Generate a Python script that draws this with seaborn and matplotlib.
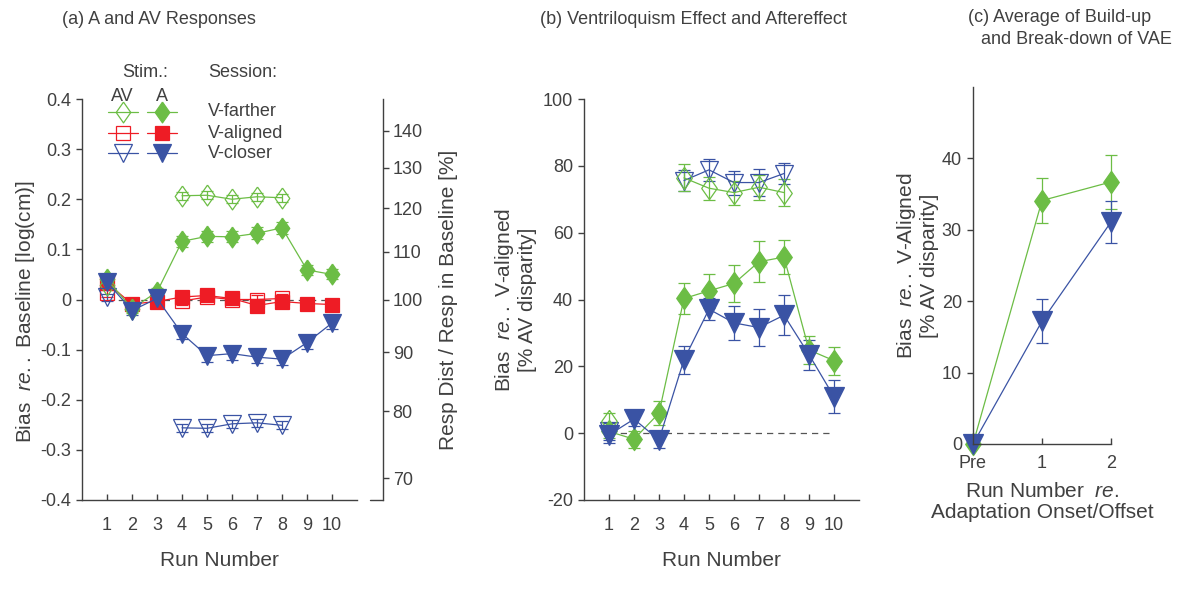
import numpy as np
import matplotlib
matplotlib.use("Agg")
import matplotlib.pyplot as plt
import seaborn as sns
from matplotlib.lines import Line2D

nan = np.nan

# ---- data -----------------------------------------------------------------
runs = np.arange(1, 11)

# (a) bias re. baseline [log(cm)]  -- A runs (filled) and AV runs (open)
a_far_A = [0.040, -0.018, 0.015, 0.116, 0.126, 0.125, 0.132, 0.143, 0.059, 0.050]
a_far_A_err = [0.008, 0.008, 0.008, 0.011, 0.011, 0.011, 0.012, 0.012, 0.010, 0.010]
a_ali_A = [0.033, -0.009, -0.004, 0.005, 0.008, 0.002, -0.012, -0.004, -0.008, -0.010]
a_ali_A_err = [0.008, 0.006, 0.006, 0.006, 0.006, 0.006, 0.006, 0.006, 0.006, 0.006]
a_clo_A = [0.035, -0.022, 0.002, -0.068, -0.112, -0.108, -0.115, -0.119, -0.086, -0.047]
a_clo_A_err = [0.008, 0.008, 0.008, 0.010, 0.012, 0.012, 0.012, 0.012, 0.012, 0.012]
a_far_AV = [0.028, nan, nan, 0.207, 0.208, 0.200, 0.205, 0.203, nan, nan]
a_ali_AV = [0.012, nan, nan, -0.003, 0.005, 0.000, 0.000, 0.002, nan, nan]
a_clo_AV = [0.004, nan, nan, -0.256, -0.257, -0.248, -0.246, -0.251, nan, nan]
a_AV_err = [0.007, nan, nan, 0.008, 0.008, 0.008, 0.008, 0.008, nan, nan]
a_right_ticks = [70, 80, 90, 100, 110, 120, 130, 140]

# (b) bias re. V-aligned [% AV disparity]
b_far_A = [0.5, -1.8, 6.0, 40.3, 42.6, 44.8, 51.3, 52.7, 24.9, 21.7]
b_far_A_err = [2.0, 2.5, 3.5, 4.5, 5.0, 5.5, 6.2, 5.0, 4.2, 4.2]
b_clo_A = [-0.5, 4.2, -2.0, 22.0, 37.1, 33.0, 31.6, 35.3, 23.5, 10.9]
b_clo_A_err = [2.5, 2.0, 2.3, 4.2, 3.2, 5.0, 5.5, 6.0, 4.5, 5.0]
b_far_AV = [3.5, nan, nan, 76.4, 73.3, 72.0, 73.6, 72.0, nan, nan]
b_far_AV_err = [2.5, nan, nan, 4.0, 3.5, 3.6, 3.7, 4.0, nan, nan]
b_clo_AV = [0.5, nan, nan, 75.6, 78.8, 75.0, 75.0, 77.7, nan, nan]
b_clo_AV_err = [2.5, nan, nan, 3.2, 3.3, 3.6, 4.0, 3.2, nan, nan]

# (c) average of build-up and break-down
c_labels = ["Pre", "1", "2"]
c_far = [0.0, 34.1, 36.7]
c_far_err = [0.0, 3.2, 3.8]
c_clo = [0.0, 17.2, 31.1]
c_clo_err = [0.0, 3.1, 3.0]

# ---- style ----------------------------------------------------------------
green, red, blue = "#6cbd45", "#ee1c25", "#3a53a4"
ink = "#404040"
# tall diamond like the MATLAB one
DIA = [(0, 1), (0.7, 0), (0, -1), (-0.7, 0), (0, 1)]

sns.set_theme(style="ticks")
plt.rcParams["font.family"] = ["Liberation Sans", "DejaVu Sans"]
plt.rcParams.update({
    "mathtext.fontset": "custom",
    "mathtext.rm": "Liberation Sans",
    "mathtext.it": "Liberation Sans:italic",
    "axes.unicode_minus": False,
    "axes.edgecolor": ink,
    "axes.labelcolor": ink,
    "text.color": ink,
    "xtick.color": ink,
    "ytick.color": ink,
    "axes.linewidth": 1.0,
})
FS_TICK, FS_LAB = 13, 15

fig = plt.figure(figsize=(11.82, 5.89), dpi=100)
W, H = 1182, 589


def px_axes(x0, y_top, x1, y_bot):
    return fig.add_axes([x0 / W, 1 - y_bot / H, (x1 - x0) / W, (y_bot - y_top) / H])


def series(ax, x, y, err, color, marker, ms, filled, clip=True):
    ax.errorbar(x, y, yerr=err, color=color, lw=0.9, elinewidth=0.9, capsize=4,
                marker=marker, ms=ms, mfc=color if filled else "none",
                mec=color, mew=0.9, clip_on=clip)


# ---- (a) ------------------------------------------------------------------
axA = px_axes(82, 99, 357, 500)
axA.hlines(0, 1, 10, colors="#555555", linestyles=(0, (5, 4)), lw=0.9)
series(axA, runs, a_ali_AV, a_AV_err, red, "s", 9.5, False)
series(axA, runs, a_ali_A, a_ali_A_err, red, "s", 9.5, True)
series(axA, runs, a_far_AV, a_AV_err, green, DIA, 15, False)
series(axA, runs, a_clo_AV, a_AV_err, blue, "v", 13, False)
series(axA, runs, a_far_A, a_far_A_err, green, DIA, 15, True)
series(axA, runs, a_clo_A, a_clo_A_err, blue, "v", 13, True)
axA.set_xlim(0, 11)
axA.set_ylim(-0.4, 0.4)
a_ticks = np.round(np.arange(-0.4, 0.41, 0.1), 1)
axA.set_yticks(a_ticks, ["0" if t == 0 else f"{t:g}" for t in a_ticks])
axA.set_xticks(runs)
axA.set_xlabel("Run Number", fontsize=FS_LAB)
axA.xaxis.set_label_coords(0.5, -0.127)
axA.set_ylabel(r"Bias  $\mathit{re..}$ Baseline [log(cm)]", fontsize=FS_LAB, va="center")
axA.yaxis.set_label_coords(-0.207, 0.47)
sns.despine(ax=axA)

axR = axA.twinx()
axR.set_ylim(-0.4, 0.4)
axR.set_yticks(np.log(np.array(a_right_ticks) / 100), [str(t) for t in a_right_ticks])
for s in ("left", "top", "bottom"):
    axR.spines[s].set_visible(False)
axR.spines["right"].set_position(("outward", 18.7))
axR.set_ylabel("Resp Dist / Resp in Baseline [%]", fontsize=FS_LAB, va="center",
               rotation=90)
axR.yaxis.set_label_coords(1.331, 0.5)
fig.add_artist(Line2D([370 / W, 383 / W], [1 - 500 / H] * 2, color=ink, lw=1.0))

# legend drawn by hand: AV (open) / A (filled) columns
axA.text(0.229, 1.065, "Stim.:", transform=axA.transAxes, ha="center", va="center", fontsize=FS_TICK)
axA.text(0.458, 1.065, "Session:", transform=axA.transAxes, ha="left", va="center", fontsize=FS_TICK)
axA.text(0.145, 1.005, "AV", transform=axA.transAxes, ha="center", va="center", fontsize=FS_TICK)
axA.text(0.291, 1.005, "A", transform=axA.transAxes, ha="center", va="center", fontsize=FS_TICK)
leg_rows = [("V-farther", green, DIA, 15), ("V-aligned", red, "s", 9.5), ("V-closer", blue, "v", 13)]
for (name, col, mk, ms), yy in zip(leg_rows, [0.968, 0.915, 0.865]):
    for (x0, x1), filled in [((0.095, 0.204), False), ((0.236, 0.345), True)]:
        axA.add_line(Line2D([x0, x1], [yy, yy], transform=axA.transAxes, color=col, lw=0.9,
                            clip_on=False))
        axA.add_line(Line2D([(x0 + x1) / 2], [yy], transform=axA.transAxes, color=col,
                            marker=mk, ms=ms, mfc=col if filled else "none", mec=col,
                            mew=0.9, clip_on=False))
    axA.text(0.458, yy, name, transform=axA.transAxes, ha="left", va="center", fontsize=FS_TICK)

# ---- (b) ------------------------------------------------------------------
axB = px_axes(584, 99, 859, 500)
axB.hlines(0, 1, 10, colors="#555555", linestyles=(0, (5, 4)), lw=0.9)
series(axB, runs, b_clo_AV, b_clo_AV_err, blue, "v", 13, False)
series(axB, runs, b_far_AV, b_far_AV_err, green, DIA, 16, False)
series(axB, runs, b_far_A, b_far_A_err, green, DIA, 16, True)
series(axB, runs, b_clo_A, b_clo_A_err, blue, "v", 14, True)
axB.set_xlim(0, 11)
axB.set_ylim(-20, 100)
axB.set_yticks(np.arange(-20, 101, 20))
axB.set_xticks(runs)
axB.set_xlabel("Run Number", fontsize=FS_LAB)
axB.xaxis.set_label_coords(0.5, -0.127)
axB.set_ylabel("Bias  $\\mathit{re..}$ V-aligned\n[% AV disparity]", fontsize=FS_LAB,
               va="center", linespacing=1.1)
axB.yaxis.set_label_coords(-0.251, 0.5)
sns.despine(ax=axB)

# ---- (c) ------------------------------------------------------------------
axC = px_axes(973, 87, 1111, 444)
series(axC, [0, 1, 2], c_far, c_far_err, green, DIA, 16, True, clip=False)
series(axC, [0, 1, 2], c_clo, c_clo_err, blue, "v", 15, True, clip=False)
axC.set_xlim(0, 2)
axC.set_ylim(0, 50)
axC.set_yticks([0, 10, 20, 30, 40])
axC.set_xticks([0, 1, 2], c_labels)
axC.set_xlabel("Run Number  $\\mathit{re.}$\nAdaptation Onset/Offset", fontsize=FS_LAB,
               va="center", linespacing=1.1)
axC.xaxis.set_label_coords(0.5, -0.162)
axC.set_ylabel("Bias  $\\mathit{re..}$ V-Aligned\n[% AV disparity]", fontsize=FS_LAB,
               va="center", linespacing=1.1)
axC.yaxis.set_label_coords(-0.406, 0.5)
sns.despine(ax=axC)

for ax in (axA, axB, axC, axR):
    ax.tick_params(axis="both", labelsize=FS_TICK, length=4, width=1.0, pad=3)
for ax in (axA, axB, axC):
    ax.tick_params(axis="x", direction="in", pad=12)
    ax.tick_params(axis="y", direction="out", pad=4)
axC.tick_params(axis="x", pad=8)

# ---- titles ---------------------------------------------------------------
fig.text(62 / W, 1 - 20 / H, "(a) A and AV Responses", ha="left", va="center", fontsize=FS_TICK)
fig.text(540 / W, 1 - 20 / H, "(b) Ventriloquism Effect and Aftereffect", ha="left",
         va="center", fontsize=FS_TICK)
fig.text(1060 / W, 1 - 17 / H, "(c) Average of Build-up", ha="center", va="center",
         fontsize=FS_TICK)
fig.text(1076 / W, 1 - 40 / H, "and Break-down of VAE", ha="center", va="center",
         fontsize=FS_TICK)

fig.savefig("out.png", dpi=100)
